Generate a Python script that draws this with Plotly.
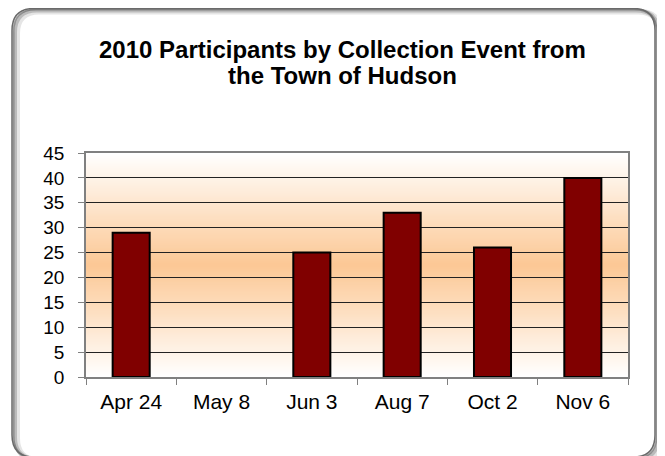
import base64, struct, zlib
import plotly.graph_objects as go

categories = ["Apr 24", "May 8", "Jun 3", "Aug 7", "Oct 2", "Nov 6"]
participants = [29, 0, 25, 33, 26, 40]
title_lines = ["2010 Participants by Collection Event from", "the Town of Hudson"]

OFF = 8  # page body margin
W, H = 665 - OFF, 456 - OFF
ML, MR, MT, MB = 86 - OFF, 37, 153 - OFF, 79
PW, PH = W - ML - MR, H - MT - MB


def gradient_png(n=200, top=(255, 255, 255), mid=(252, 200, 149)):
    rows = b""
    for i in range(n):
        t = i / (n - 1)
        f = 1 - abs(2 * t - 1)
        c = [round(top[k] + (mid[k] - top[k]) * f) for k in range(3)]
        rows += b"\x00" + bytes(c)

    def chunk(tag, data):
        return struct.pack(">I", len(data)) + tag + data + struct.pack(">I", zlib.crc32(tag + data) & 0xffffffff)

    png = b"\x89PNG\r\n\x1a\n"
    png += chunk(b"IHDR", struct.pack(">IIBBBBB", 1, n, 8, 2, 0, 0, 0))
    png += chunk(b"IDAT", zlib.compress(rows))
    png += chunk(b"IEND", b"")
    return "data:image/png;base64," + base64.b64encode(png).decode()


def P(px, py):
    # page pixel -> paper coords
    px -= OFF
    py -= OFF
    return (px - ML) / PW, (H - MB - py) / PH


def rounded_path(x0, y0, x1, y1, r):
    pts = [
        ("M", [(x0 + r, y0)]), ("L", [(x1 - r, y0)]), ("Q", [(x1, y0), (x1, y0 + r)]),
        ("L", [(x1, y1 - r)]), ("Q", [(x1, y1), (x1 - r, y1)]), ("L", [(x0 + r, y1)]),
        ("Q", [(x0, y1), (x0, y1 - r)]), ("L", [(x0, y0 + r)]), ("Q", [(x0, y0), (x0 + r, y0)]),
    ]
    s = ""
    for cmd, ps in pts:
        s += cmd + " " + " ".join("%.5f,%.5f" % P(*p) for p in ps) + " "
    return s + "Z"


fig = go.Figure()
fig.add_trace(go.Bar(
    x=categories, y=participants,
    marker=dict(color="#800000",
                line=dict(color="#000000", width=[2 if v > 0 else 0 for v in participants])),
))

font = "Liberation Sans, Arial, sans-serif"
fx0, fy0, fx1, fy1, rad = 12, 8.5, 655, 457, 22
shapes = []
for dx, dy, w, a in [(5, 3, 6, 0.10), (3, 2, 4, 0.18), (1.5, 1, 2, 0.30)]:
    shapes.append(dict(type="path", xref="paper", yref="paper",
                       path=rounded_path(fx0 + dx, fy0 + dy, fx1 + dx, fy1 + dy, rad),
                       line=dict(color="rgba(0,0,0,%.2f)" % a, width=w), layer="below"))
shapes.append(dict(type="path", xref="paper", yref="paper",
                   path=rounded_path(fx0, fy0, fx1, fy1, rad),
                   line=dict(color="#6a6a6a", width=1.5), layer="above"))

annotations = []
for line, cy in zip(title_lines, [49, 75.5]):
    _, ay = P(0, cy)
    ax, _ = P(342.5, 0)
    annotations.append(dict(
        text="<b>" + line + "</b>", xref="paper", yref="paper",
        x=ax, y=ay, xanchor="center", yanchor="middle",
        showarrow=False, font=dict(family=font, size=24, color="#000000"),
    ))

fig.update_layout(
    width=W, height=H,
    margin=dict(l=ML, r=MR, t=MT, b=MB),
    paper_bgcolor="white",
    plot_bgcolor="rgba(0,0,0,0)",
    bargap=0.59,
    showlegend=False,
    font=dict(family=font, size=19, color="#000000"),
    xaxis=dict(
        type="category", showgrid=False, ticks="outside", ticklen=6, tickcolor="#808080",
        tickson="boundaries", linecolor="#808080", linewidth=1.5, mirror=True,
        tickfont=dict(size=21), ticklabelstandoff=5, fixedrange=True,
    ),
    yaxis=dict(
        range=[0, 45], dtick=5, ticks="outside", ticklen=6, tickcolor="#808080",
        showgrid=True, gridcolor="#222222", gridwidth=1,
        linecolor="#808080", linewidth=1.5, mirror=True, zeroline=False,
        tickfont=dict(size=19), ticklabelstandoff=10, fixedrange=True,
    ),
    images=[dict(
        source=gradient_png(), xref="paper", yref="paper", x=0, y=1,
        sizex=1, sizey=1, sizing="stretch", xanchor="left", yanchor="top", layer="below",
    )],
    shapes=shapes,
    annotations=annotations,
)

fig.write_html("out.html")
